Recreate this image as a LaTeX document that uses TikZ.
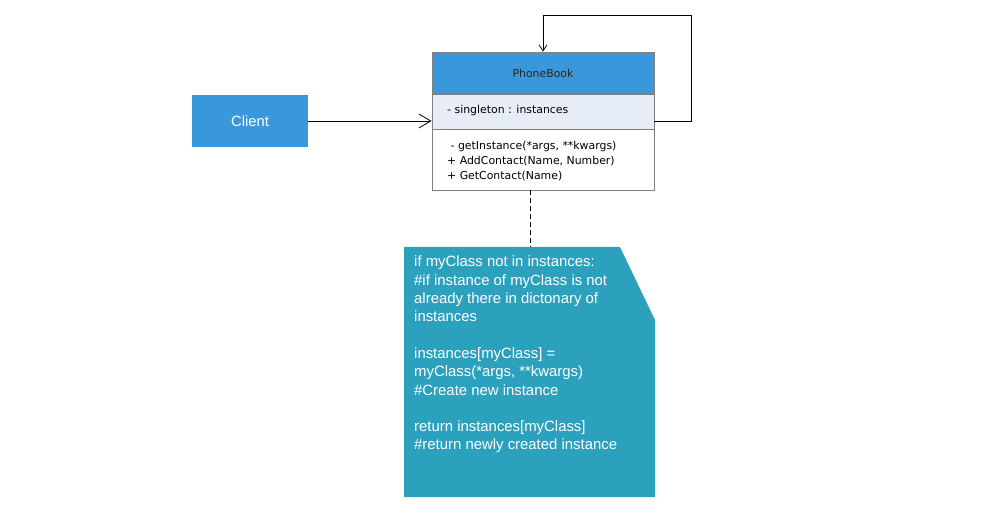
\documentclass[tikz,border=0pt]{standalone}
\usepackage{fontspec}
\setmainfont{Liberation Sans}
\newfontfamily\umlfont{DejaVu Sans}
\usetikzlibrary{arrows.meta}
\definecolor{hdrblue}{RGB}{57,151,219}
\definecolor{attrfill}{RGB}{230,237,247}
\definecolor{notefill}{RGB}{44,161,190}
\definecolor{bordergray}{RGB}{128,128,128}
\begin{document}
\begin{tikzpicture}[x=1pt,y=-1pt,
  umltext/.style={font=\umlfont\fontsize{10.9}{15}\selectfont},
  umlpart/.style={draw=bordergray, line width=0.8pt, minimum width=222pt, inner sep=0pt, umltext},
  conn/.style={draw=black, line width=0.8pt},
  bigbarb/.style={-{Straight Barb[length=12pt,width=14pt,line width=0.8pt]}},
  smallbarb/.style={-{Straight Barb[length=6pt,width=8pt,line width=0.8pt]}}
]
\useasboundingbox (0,0) rectangle (996,521);
% Client
\node[fill=hdrblue, minimum width=116pt, minimum height=52pt, inner sep=0pt, text=white, font=\fontsize{14.8}{16}\selectfont] (client) at (250,121) {Client};
% PhoneBook class
\node[umlpart, fill=hdrblue, minimum height=42pt, text=black!85] (header) at (543,73) {PhoneBook};
\node[umlpart, fill=attrfill, minimum height=35pt] (attrs) at (543,111.5) {};
\node[anchor=west, inner sep=0pt, umltext] (attrtext) at (447,110) {- singleton : instances};
\node[umlpart, fill=white, minimum height=61pt] (methods) at (543,159.5) {};
\node[anchor=north west, inner sep=0pt, align=left, umltext] (methtext) at (447,141)
  {\ - getInstance(*args, **kwargs)\\+ AddContact(Name, Number)\\+ GetContact(Name)};
% Note
\fill[notefill] (404,247) -- (620,247) -- (655,320) -- (655,497) -- (404,497) -- cycle;
\coordinate (notetop) at (530,247);
\node[anchor=north west, inner sep=0pt, align=left, text=white, font=\fontsize{14.9}{18.3}\selectfont] (note) at (414,256)
  {if myClass not in instances:\\
   \#if instance of myClass is not\\
   already there in dictonary of\\
   instances\\[18.3pt]
   instances[myClass] =\\
   myClass(*args, **kwargs)\\
   \#Create new instance\\[18.3pt]
   return instances[myClass]\\
   \#return newly created instance};
% Connectors
\draw[conn, bigbarb] (client.east) -- (attrs.west |- client.east);
\coordinate (loopcorner) at (691,15);
\draw[conn, smallbarb] (attrs.east |- client.east) -| (loopcorner) -| (header.north);
\draw[conn, dashed, dash pattern=on 5pt off 3pt] (methods.south -| notetop) -- (notetop);
\end{tikzpicture}
\end{document}
